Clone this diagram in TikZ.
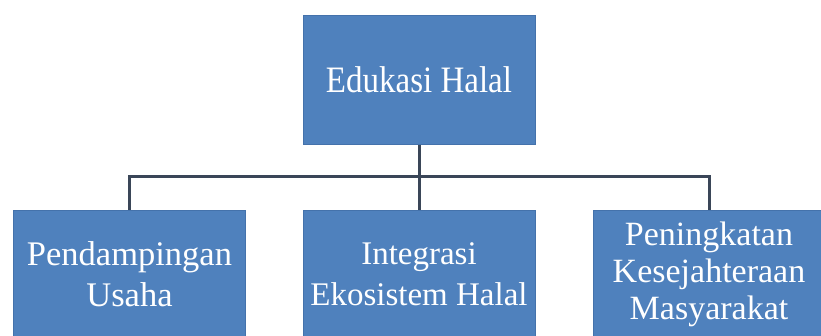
\documentclass[tikz,border=0pt]{standalone}
\usepackage{fontspec}
\setmainfont{Liberation Serif}
\definecolor{boxblue}{HTML}{4F81BD}
\definecolor{boxedge}{HTML}{4472AB}
\definecolor{linkcol}{HTML}{3A4658}
\begin{document}
\begin{tikzpicture}[x=1pt,y=-1pt,
  hbox/.style={draw=boxedge,line width=1pt,fill=boxblue,text=white,
    minimum width=232pt,minimum height=129pt,inner sep=0pt,align=center},
  link/.style={draw=linkcol,line width=3pt}]
\useasboundingbox (0,0) rectangle (821,335);
\begin{scope}
\clip (0,0) rectangle (821,335);
\node[hbox,font={\fontsize{33}{40}\selectfont}] (top) at (419,79.5) {\scalebox{1}[1.13]{Edukasi Halal}};
\node[hbox,font={\fontsize{34.5}{41}\selectfont}] (c1) at (129.5,274.5) {Pendampingan\\Usaha};
\node[hbox,font={\fontsize{33}{41}\selectfont}] (c2) at (419,274.5) {Integrasi\\Ekosistem Halal};
\node[hbox,font={\fontsize{34}{37}\selectfont}] (c3) at (709,274.5) {Peningkatan\\Kesejahteraan\\Masyarakat};
\coordinate (bus) at (419,176);
\draw[link] (top.south) -- (bus);
\draw[link] (bus) -| (c1.north);
\draw[link] (bus) -| (c3.north);
\draw[link] (bus) -- (c2.north);
\end{scope}
\end{tikzpicture}
\end{document}
